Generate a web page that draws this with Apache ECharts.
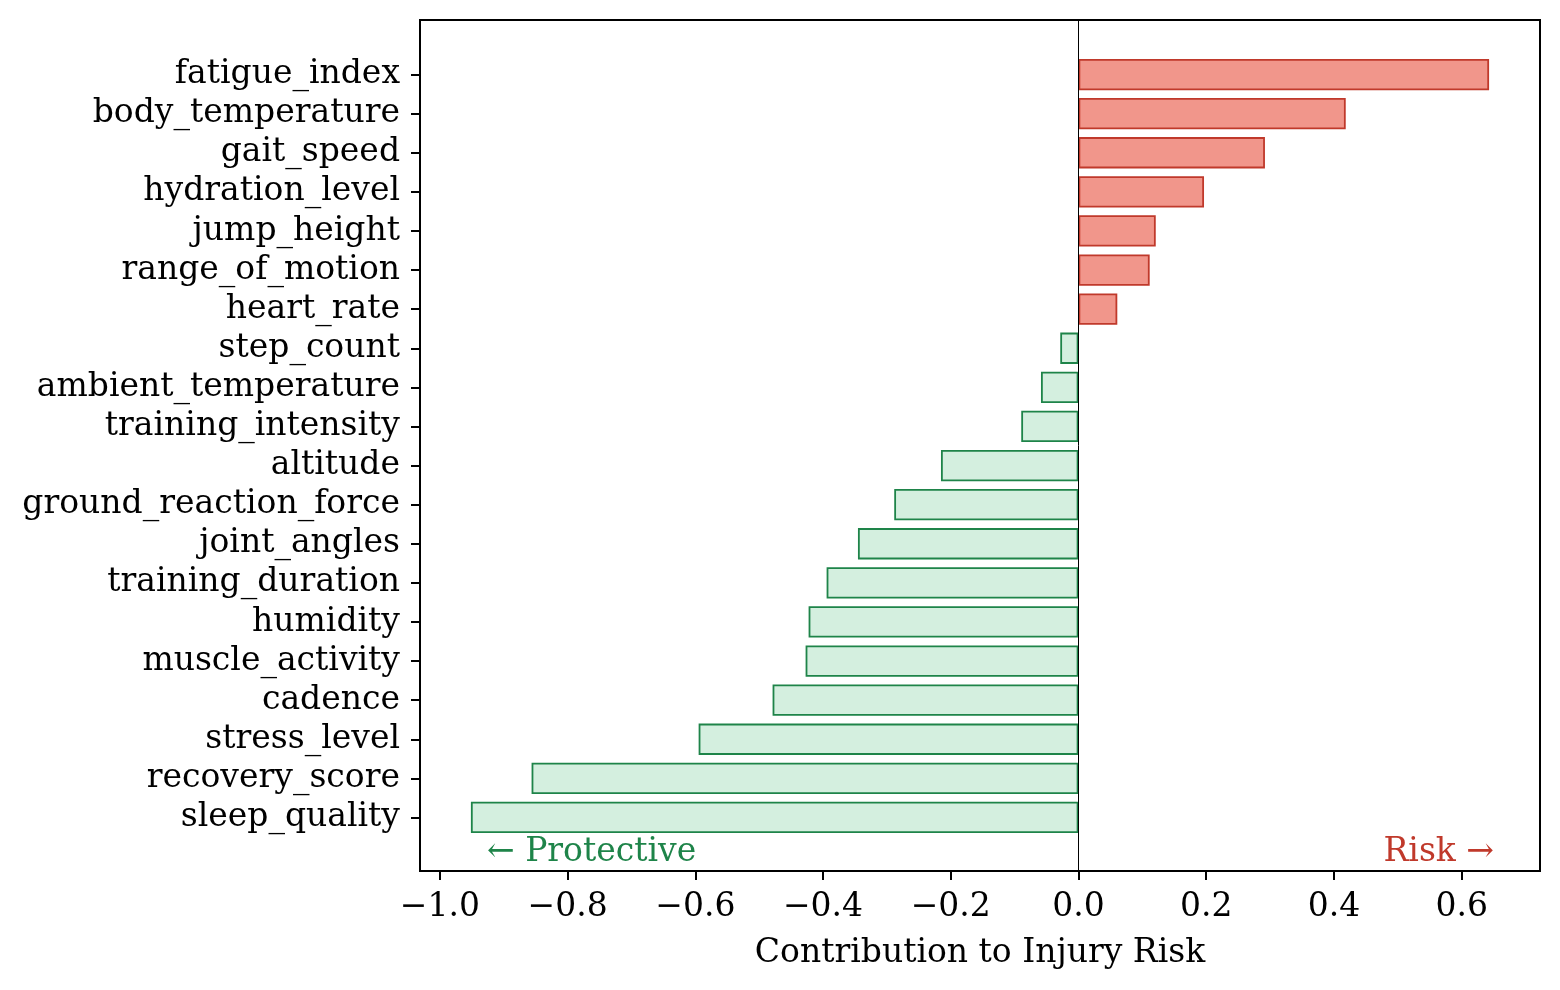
<!DOCTYPE html>
<html>
<head>
<meta charset="utf-8">
<script src="https://cdn.jsdelivr.net/npm/echarts@6/dist/echarts.min.js"></script>
<style>
html,body{margin:0;padding:0;background:#fff;}
#chart{width:1560px;height:990px;}
</style>
</head>
<body>
<div id="chart"></div>
<script>
var categories = ['fatigue_index','body_temperature','gait_speed','hydration_level','jump_height','range_of_motion','heart_rate','step_count','ambient_temperature','training_intensity','altitude','ground_reaction_force','joint_angles','training_duration','humidity','muscle_activity','cadence','stress_level','recovery_score','sleep_quality'];
var contributions = [0.643,0.4185,0.292,0.1966,0.121,0.1115,0.0608,-0.0285,-0.0587,-0.0896,-0.2153,-0.2885,-0.3453,-0.3944,-0.4226,-0.4273,-0.479,-0.5948,-0.8564,-0.9514];
var xTicks = [-1.0,-0.8,-0.6,-0.4,-0.2,0.0,0.2,0.4,0.6];
var xTitle = 'Contribution to Injury Risk';
var leftNote = '\u2190 Protective';
var rightNote = 'Risk \u2192';

var FONT = '"DejaVu Serif", serif';
var FS = 33;
var RED_FILL = '#F1968B', RED_EDGE = '#C0392B';
var GREEN_FILL = '#D4EFDF', GREEN_EDGE = '#1E8449';

var dmin = Math.min.apply(null, contributions), dmax = Math.max.apply(null, contributions);
var pad = 0.05 * (dmax - dmin);
var xmin = dmin - pad, xmax = dmax + pad;

function fmt(v){ var s = Math.abs(v).toFixed(1); return (v < -1e-9 ? '\u2212' : '') + s; }

var chart = echarts.init(document.getElementById('chart'), null, {renderer:'canvas'});
chart.setOption({
  animation: false,
  backgroundColor: '#fff',
  grid: [
    {left:420, right:20, top:20, bottom:119, show:true, borderColor:'#000', borderWidth:2, backgroundColor:'transparent', z:0},
    {left:420, right:20, top:55, bottom:153, show:false}
  ],
  xAxis: [
    {type:'value', gridIndex:0, min:xmin, max:xmax, position:'bottom',
     axisLine:{show:false, onZero:false}, splitLine:{show:false},
     axisTick:{show:true, length:9, lineStyle:{color:'#000', width:2}, customValues: xTicks},
     axisLabel:{show:true, color:'#000', fontFamily:FONT, fontSize:FS, margin:20, customValues: xTicks, formatter: fmt},
     name: xTitle, nameLocation:'middle', nameGap:66,
     nameTextStyle:{color:'#000', fontFamily:FONT, fontSize:FS}},
    {type:'value', gridIndex:1, min:xmin, max:xmax, show:false, axisLine:{onZero:false}}
  ],
  yAxis: [
    {type:'value', gridIndex:0, min:0, max:1, show:false, axisLine:{onZero:false}},
    {type:'category', gridIndex:1, data:categories, inverse:true, position:'left',
     axisLine:{show:false, onZero:false}, splitLine:{show:false},
     axisTick:{show:true, alignWithLabel:true, interval:0, length:9, lineStyle:{color:'#000', width:2}},
     axisLabel:{color:'#000', fontFamily:FONT, fontSize:FS, margin:20, interval:0, hideOverlap:false, padding:[5,0,0,0]}}
  ],
  series: [
    {type:'line', xAxisIndex:0, yAxisIndex:0, data:[], silent:true, z:5,
     markLine:{silent:true, symbol:['none','none'], label:{show:false},
       lineStyle:{color:'#000', width:1, type:'solid'},
       data:[{xAxis:0}]}},
    {type:'bar', xAxisIndex:1, yAxisIndex:1, barWidth:'80%', z:3,
     data: contributions.map(function(v){
       return {value:v, itemStyle:{color: v>=0?RED_FILL:GREEN_FILL, borderColor: v>=0?RED_EDGE:GREEN_EDGE, borderWidth:1.8}};
     })}
  ],
  graphic: [
    {type:'text', left:487, top:836, style:{text:leftNote, fill:GREEN_EDGE, font:FS+'px "DejaVu Serif", serif'}},
    {type:'text', right:1560-1494, top:836, style:{text:rightNote, fill:RED_EDGE, font:FS+'px "DejaVu Serif", serif'}}
  ]
});
</script>
</body>
</html>
